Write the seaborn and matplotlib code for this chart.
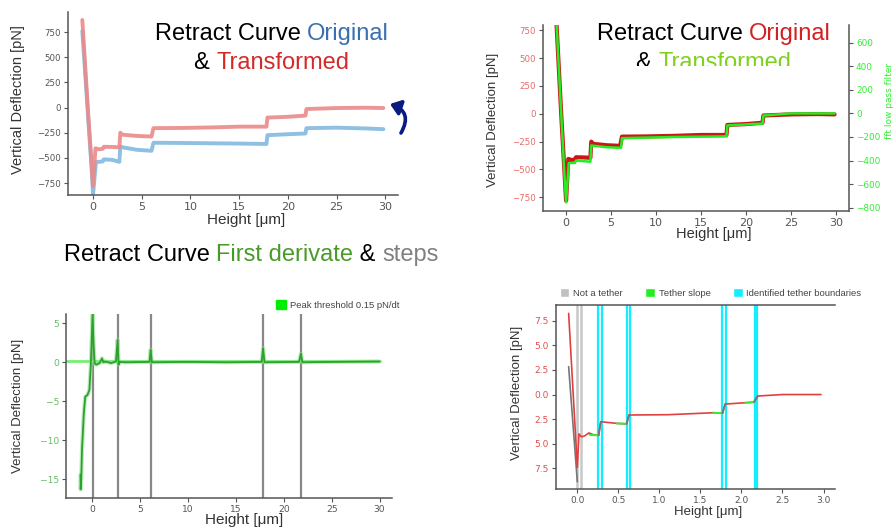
import numpy as np
import pandas as pd
import matplotlib
matplotlib.use("Agg")
import matplotlib.pyplot as plt
import seaborn as sns
from matplotlib.patches import Patch, Rectangle, FancyArrowPatch

# ---------------- data ----------------
# Panel 1 / 2 : retract curve (pN vs µm)
orig_x = [-1.1, -0.5, -0.15, 0.0, 0.3, 0.6, 1.0, 1.1, 2.0, 2.7, 2.8, 3.0, 4.5, 6.0, 6.2,
          9.0, 12.0, 15.0, 17.8, 17.9, 20.0, 21.8, 21.9, 25.0, 28.0, 29.8]
orig_y = [760, -100, -600, -865, -540, -540, -535, -515, -520, -540, -385, -395, -420, -430, -350,
          -352, -355, -358, -362, -275, -265, -258, -205, -200, -208, -215]

trans_x = [-1.1, -0.5, -0.15, 0.0, 0.25, 0.6, 1.0, 1.1, 2.0, 2.7, 2.8, 3.0, 4.5, 6.0, 6.2,
           9.0, 12.0, 15.0, 17.8, 17.9, 20.0, 21.8, 21.9, 25.0, 28.0, 29.8]
trans_y = [870, -60, -560, -780, -405, -415, -410, -390, -392, -395, -250, -270, -282, -288, -205,
           -203, -198, -190, -190, -100, -92, -80, -15, -5, -2, -5]

filt_x = [-1.15, -0.5, -0.15, 0.0, 0.3, 1.0, 1.1, 2.7, 2.8, 4.5, 6.1, 6.2, 12.0, 17.8, 17.9,
          21.8, 21.9, 25.0, 29.8]
filt_y = [900, -60, -560, -755, -420, -420, -400, -410, -272, -287, -292, -210, -200, -195, -102,
          -86, -18, 0, 0]

defl_ticks = [-750, -500, -250, 0, 250, 500, 750]
fft_ticks = [-800, -600, -400, -200, 0, 200, 400, 600]
height_ticks = [0, 5, 10, 15, 20, 25, 30]

# Panel 3 : first derivative
deriv_x = [-1.2, -1.18, -1.12, -1.04, -0.85, -0.7, -0.47, -0.27, -0.13, 0.06, 0.16, 0.28, 0.45,
           0.8, 1.04, 1.2, 1.4, 2.0, 2.5, 2.67, 2.78, 2.9, 3.5, 6.0, 6.12, 6.25, 10, 14, 17.7,
           17.85, 18.0, 21.6, 21.8, 21.95, 25, 30]
deriv_y = [-14.4, -16.3, -15.0, -11.2, -6.5, -4.4, -4.2, -3.55, -0.6, 6.1, 2.5, -0.15, -0.3,
           -0.1, 0.5, 0.0, 0.1, -0.1, 0.1, 2.86, -0.3, 0.05, 0.0, 0.05, 1.6, 0.0, 0.05, 0.0, 0.05,
           1.8, 0.0, 0.05, 1.1, 0.0, 0.05, 0.1]
threshold = 0.15
threshold_x = [-2.7, 30]
steps_x = [0.06, 2.67, 6.12, 17.8, 21.8]
deriv_ticks = [-15, -10, -5, 0, 5]

# Panel 4 : tether identification
curve4_x = [-0.106, 0.0, 0.02, 0.05, 0.09, 0.14, 0.2, 0.26, 0.285, 0.48, 0.6, 0.63, 1.1, 1.66,
            1.77, 1.8, 2.05, 2.15, 2.2, 2.5, 2.97]
curve4_y = [8.25, -7.4, -4.0, -4.3, -4.2, -3.9, -4.1, -4.15, -2.76, -2.93, -2.98, -2.08, -2.05,
            -1.85, -1.9, -0.97, -0.83, -0.78, -0.15, 0.0, 0.0]
not_tether_curve_x = [-0.106, 0.0]
not_tether_curve_y = [2.83, -8.86]
tether_x = [[0.15, 0.26], [0.48, 0.6], [1.66, 1.77], [2.05, 2.15]]
tether_y = [[-4.1, -4.15], [-2.93, -2.98], [-1.85, -1.9], [-0.83, -0.78]]
jump_x = [[0.26, 0.285], [0.6, 0.63], [1.77, 1.8], [2.15, 2.2]]
jump_y = [[-4.15, -2.76], [-2.98, -2.08], [-1.9, -0.97], [-0.78, -0.15]]
not_tether_x = [0.0, 0.041]
boundaries_x = [0.256, 0.297, 0.602, 0.643, 1.761, 1.81, 2.167, 2.195]
p4_yticks = [-7.5, -5.0, -2.5, 0.0, 2.5, 5.0, 7.5]
p4_yticklabels = ["7.5", "5.0", "2.5", "0.0", "2.5", "5.0", "7.5"]
p4_xticks = [0.0, 0.5, 1.0, 1.5, 2.0, 2.5, 3.0]

# ---------------- figure ----------------
W, H = 893, 527
sns.set_style("ticks")
plt.rcParams['font.family'] = ['DejaVu Sans']
SANS = ['Liberation Sans', 'DejaVu Sans']
fig = plt.figure(figsize=(W / 100, H / 100), dpi=100)

SPINE = '#555555'
LABEL = '#333333'


def add_ax(L, R, T, B):
    return fig.add_axes([L / W, 1 - B / H, (R - L) / W, (B - T) / H])


def line(ax, x, y, **kw):
    sns.lineplot(x=x, y=y, ax=ax, sort=False, estimator=None, legend=False, **kw)


def style(ax, spines, L, R, T, B, xl_y, xl_cx, yl_x, yl_cy, xs, ys, xts, yts):
    for s in ['left', 'right', 'top', 'bottom']:
        ax.spines[s].set_visible(s in spines)
        ax.spines[s].set_color(SPINE)
        ax.spines[s].set_linewidth(1.1)
    ax.tick_params(length=3, width=0.8, color=SPINE, labelcolor='#555555', pad=2)
    ax.tick_params(axis='x', labelsize=xts)
    ax.tick_params(axis='y', labelsize=yts)
    ax.set_xlabel('Height [μm]', fontsize=xs, color=LABEL, va='center', family=SANS)
    ax.set_ylabel('Vertical Deflection [pN]', fontsize=ys, color=LABEL, va='center', family=SANS)
    ax.xaxis.set_label_coords((xl_cx - L) / (R - L), (B - xl_y) / (B - T))
    ax.yaxis.set_label_coords((yl_x - L) / (R - L), (B - yl_cy) / (B - T))


def color_text(cx, cy, parts, size):
    r = fig.canvas.get_renderer()
    ref = fig.text(0, 0, 'l', fontsize=size, family=SANS)
    wl = ref.get_window_extent(r).width
    full = ''.join(p for p, _ in parts)
    tf = fig.text(0, 0, full + 'l', fontsize=size, family=SANS)
    total = tf.get_window_extent(r).width - wl
    ref.remove(); tf.remove()
    x0 = cx - total / 2
    prefix = ''
    for s, c in parts:
        if prefix:
            tp = fig.text(0, 0, prefix + 'l', fontsize=size, family=SANS)
            off = tp.get_window_extent(r).width - wl
            tp.remove()
        else:
            off = 0
        fig.text((x0 + off) / W, 1 - cy / H, s, color=c, fontsize=size, family=SANS,
                 ha='left', va='center', zorder=10)
        prefix += s


# ---- Panel 1 ----
L, R, T, B = 68, 398, 12, 195
ax1 = add_ax(L, R, T, B)
line(ax1, orig_x, orig_y, color='#8fc0e3', lw=2.8)
line(ax1, trans_x, trans_y, color='#ec8a8a', lw=2.8, alpha=0.9)
ax1.set_xlim(-2.57, 31.3)
ax1.set_ylim(-869, 949)
ax1.set_xticks(height_ticks)
ax1.set_yticks(defl_ticks)
style(ax1, ['left', 'bottom'], L, R, T, B, 220, 246, 18, 100, 11, 10.5, 8, 6.2)

color_text(272, 34, [('Retract Curve ', 'black'), ('Original', '#3a6fb0')], 17)
color_text(272, 63, [('& ', 'black'), ('Transformed', '#d42a2a')], 17)
arrow = FancyArrowPatch(posA=(401 / W, 1 - 133 / H), posB=(390 / W, 1 - 104 / H),
                        transform=fig.transFigure, connectionstyle='arc3,rad=0.6',
                        arrowstyle='-|>,head_length=6,head_width=4.5', lw=2.6,
                        color='#0b1a80', zorder=10, shrinkA=0, shrinkB=0)
fig.add_artist(arrow)

# ---- Panel 2 ----
L, R, T, B = 543, 849, 25, 211
ax2 = add_ax(L, R, T, B)
line(ax2, trans_x, trans_y, color='#cc1515', lw=3.0)
ax2.set_xlim(-2.56, 31.4)
ax2.set_ylim(-873, 798)
ax2.set_xticks(height_ticks)
ax2.set_yticks(defl_ticks)
style(ax2, ['left', 'bottom'], L, R, T, B, 234, 714, 493, 120, 10.5, 9.5, 8, 6.2)
ax2.tick_params(axis='y', labelcolor='#e86a6a')
ax2b = ax2.twinx()
line(ax2b, filt_x, filt_y, color='#22ee22', lw=1.8)
ax2b.set_ylim(-828, 750)
ax2b.set_yticks(fft_ticks)
for s in ['left', 'top', 'bottom']:
    ax2b.spines[s].set_visible(False)
ax2b.spines['right'].set_color(SPINE)
ax2b.spines['right'].set_linewidth(1.1)
ax2b.tick_params(length=3, width=0.8, color=SPINE, labelsize=6.4, labelcolor='#33ee33', pad=2)
ax2b.set_ylabel('')
fig.text(889 / W, 1 - 101 / H, 'fft low pass filter', rotation=90, color='#33ee33',
         fontsize=6.5, ha='center', va='center')

color_text(714, 34, [('Retract Curve ', 'black'), ('Original', '#d42020')], 17)
color_text(714, 63, [('& ', 'black'), ('Transformed', '#80d020')], 17)
fig.add_artist(Rectangle((628 / W, 1 - 80 / H), 175 / W, 14 / H, transform=fig.transFigure,
                         facecolor='white', edgecolor='none', zorder=11))

# ---- Panel 3 ----
color_text(251, 255, [('Retract Curve ', 'black'), ('First derivate', '#4a9a2a'),
                      (' & ', 'black'), ('steps', '#808080')], 17)
L, R, T, B = 66, 392, 314, 498
ax3 = add_ax(L, R, T, B)
for sx in steps_x:
    ax3.axvline(sx, color='#888888', lw=1.6, zorder=1)
line(ax3, threshold_x, [threshold, threshold], color='#77ee77', lw=2.0)
line(ax3, deriv_x, deriv_y, color='#8fe08f', lw=3.0, alpha=0.6)
line(ax3, deriv_x, deriv_y, color='#2ea02e', lw=1.3)
ax3.set_xlim(-2.71, 31.3)
ax3.set_ylim(-17.4, 6.19)
ax3.set_xticks(height_ticks)
ax3.set_yticks(deriv_ticks)
style(ax3, ['left', 'bottom'], L, R, T, B, 520, 244, 18, 406, 11, 9.5, 6.6, 6.6)
ax3.tick_params(axis='y', labelcolor='#66bb66')
ax3.legend(handles=[Patch(facecolor='#00ee00', edgecolor='#00ee00',
                          label='Peak threshold 0.15 pN/dt')],
           loc='center left', bbox_to_anchor=((275 - L) / (R - L) - 0.01, (B - 305) / (B - T)),
           frameon=False, prop={'family': SANS, 'size': 6.8}, handlelength=1.1,
           handleheight=1.0, handletextpad=0.4, borderaxespad=0, labelcolor='#444444')

# ---- Panel 4 ----
L, R, T, B = 556, 835, 305, 489
ax4 = add_ax(L, R, T, B)
for nx in not_tether_x:
    ax4.axvline(nx, color='#c8c8c8', lw=1.8, zorder=1)
for bx in boundaries_x:
    ax4.axvline(bx, color='#11eeff', lw=1.6, zorder=1)
line(ax4, not_tether_curve_x, not_tether_curve_y, color='#777777', lw=1.2)
line(ax4, curve4_x, curve4_y, color='#e04040', lw=1.2)
for xs, ys in zip(tether_x, tether_y):
    line(ax4, xs, ys, color='#33ee33', lw=1.4)
for xs, ys in zip(jump_x, jump_y):
    line(ax4, xs, ys, color='#777777', lw=1.2)
ax4.set_xlim(-0.26, 3.14)
ax4.set_ylim(-9.6, 9.1)
ax4.set_xticks(p4_xticks)
ax4.set_yticks(p4_yticks)
ax4.set_yticklabels(p4_yticklabels)
style(ax4, ['left', 'bottom', 'top'], L, R, T, B, 512, 708, 517, 393, 9.5, 9.5, 6.5, 6.5)
ax4.tick_params(axis='y', labelcolor='#e05050')
ax4.legend(handles=[Patch(facecolor='#c0c0c0', label='Not a tether'),
                    Patch(facecolor='#22ee22', label='Tether slope'),
                    Patch(facecolor='#11eeff', label='Identified tether boundaries')],
           loc='center left', bbox_to_anchor=(0.0, (B - 293) / (B - T)), ncol=3,
           frameon=False, prop={'family': SANS, 'size': 6.8}, handlelength=1.0,
           handleheight=1.0, handletextpad=0.4, columnspacing=2.4, borderaxespad=0,
           labelcolor='#444444')

fig.savefig('out.png', dpi=100, facecolor='white')
